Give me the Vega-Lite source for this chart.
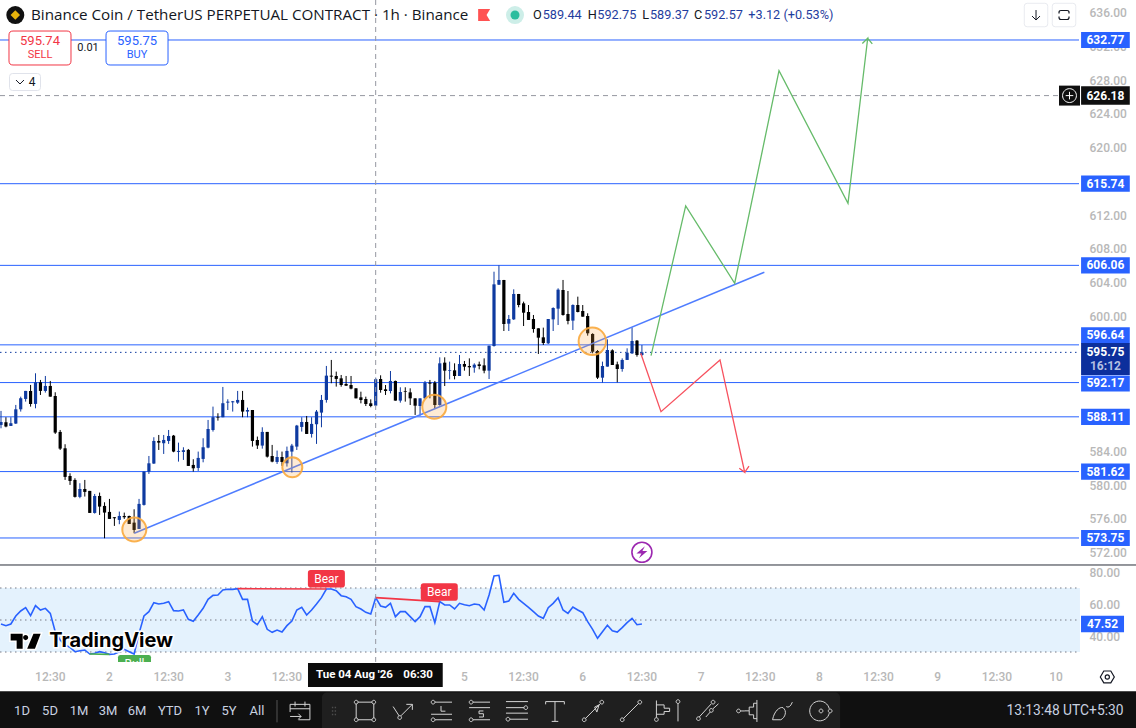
{
  "$schema": "https://vega.github.io/schema/vega-lite/v6.json",
  "description": "BNB perpetual 1h candles with RSI pane and drawn trade levels",
  "width": 1136,
  "height": 728,
  "padding": 0,
  "autosize": {"type": "none"},
  "background": "#ffffff",
  "config": {"view": {"stroke": null}, "text": {"font": "Roboto"}},
  "data": {"values": [{}]},
  "datasets": {
    "candles": [
      {"bar":1,"o":587.15,"h":588.81,"l":586.75,"c":587.50,"rsi":47.5},
      {"bar":2,"o":587.46,"h":588.06,"l":586.87,"c":586.95,"rsi":46.46},
      {"bar":3,"o":587.03,"h":588.06,"l":587.03,"c":587.35,"rsi":47.5},
      {"bar":4,"o":587.31,"h":589.52,"l":587.27,"c":589.00,"rsi":52.5},
      {"bar":5,"o":589.00,"h":590.50,"l":588.73,"c":590.31,"rsi":55.63},
      {"bar":6,"o":590.23,"h":591.18,"l":589.91,"c":591.18,"rsi":57.71},
      {"bar":7,"o":591.18,"h":591.89,"l":589.32,"c":589.64,"rsi":52.71},
      {"bar":8,"o":589.64,"h":593.27,"l":589.12,"c":592.20,"rsi":58.96},
      {"bar":9,"o":592.20,"h":592.48,"l":590.70,"c":591.18,"rsi":56.25},
      {"bar":10,"o":591.18,"h":592.95,"l":590.98,"c":591.77,"rsi":57.29},
      {"bar":11,"o":591.77,"h":592.36,"l":590.50,"c":590.50,"rsi":54.17},
      {"bar":12,"o":590.58,"h":591.02,"l":586.08,"c":586.24,"rsi":42.71},
      {"bar":13,"o":586.32,"h":586.55,"l":584.18,"c":584.34,"rsi":37.5},
      {"bar":14,"o":584.38,"h":584.86,"l":580.63,"c":580.99,"rsi":34.38},
      {"bar":15,"o":581.10,"h":581.42,"l":580.04,"c":580.51,"rsi":32.92},
      {"bar":16,"o":580.63,"h":580.83,"l":578.54,"c":578.62,"rsi":30.21},
      {"bar":17,"o":578.62,"h":580.24,"l":578.46,"c":579.56,"rsi":30.83},
      {"bar":18,"o":579.56,"h":580.63,"l":578.66,"c":579.21,"rsi":31.25},
      {"bar":19,"o":579.33,"h":579.33,"l":576.72,"c":576.72,"rsi":28.75},
      {"bar":20,"o":576.72,"h":578.97,"l":576.64,"c":578.73,"rsi":29.17},
      {"bar":21,"o":578.73,"h":579.13,"l":576.48,"c":577.47,"rsi":30.21},
      {"bar":22,"o":577.55,"h":577.98,"l":573.72,"c":576.76,"rsi":29.58},
      {"bar":23,"o":576.84,"h":578.38,"l":576.01,"c":576.01,"rsi":28.54},
      {"bar":24,"o":576.21,"h":576.21,"l":575.18,"c":576.09,"rsi":28.75},
      {"bar":25,"o":575.89,"h":576.88,"l":575.38,"c":576.36,"rsi":30.21},
      {"bar":26,"o":576.36,"h":576.76,"l":576.01,"c":576.21,"rsi":31.67},
      {"bar":27,"o":576.36,"h":576.40,"l":575.42,"c":575.42,"rsi":30.21},
      {"bar":28,"o":575.57,"h":577.15,"l":574.31,"c":574.70,"rsi":28.75},
      {"bar":29,"o":574.82,"h":578.38,"l":574.82,"c":577.79,"rsi":41.67},
      {"bar":30,"o":577.67,"h":581.62,"l":577.59,"c":581.62,"rsi":52.5},
      {"bar":31,"o":581.62,"h":583.47,"l":581.34,"c":582.60,"rsi":55.21},
      {"bar":32,"o":582.57,"h":585.69,"l":582.53,"c":585.25,"rsi":60.83},
      {"bar":33,"o":585.25,"h":585.96,"l":584.18,"c":585.05,"rsi":60.0},
      {"bar":34,"o":584.98,"h":585.96,"l":583.71,"c":585.37,"rsi":60.42},
      {"bar":35,"o":585.25,"h":586.55,"l":584.90,"c":585.84,"rsi":61.46},
      {"bar":36,"o":585.88,"h":585.96,"l":583.91,"c":583.99,"rsi":55.83},
      {"bar":37,"o":583.95,"h":585.05,"l":582.80,"c":584.07,"rsi":55.63},
      {"bar":38,"o":583.95,"h":584.50,"l":583.00,"c":584.15,"rsi":56.25},
      {"bar":39,"o":584.19,"h":584.30,"l":582.29,"c":582.29,"rsi":50.42},
      {"bar":40,"o":582.41,"h":583.08,"l":581.62,"c":582.01,"rsi":49.17},
      {"bar":41,"o":582.05,"h":583.99,"l":581.70,"c":583.24,"rsi":53.13},
      {"bar":42,"o":583.12,"h":585.57,"l":582.72,"c":584.50,"rsi":57.29},
      {"bar":43,"o":584.46,"h":587.74,"l":584.38,"c":586.67,"rsi":62.92},
      {"bar":44,"o":586.55,"h":589.32,"l":586.36,"c":588.06,"rsi":65.42},
      {"bar":45,"o":588.10,"h":588.53,"l":587.66,"c":588.02,"rsi":65.63},
      {"bar":46,"o":588.06,"h":591.65,"l":588.06,"c":589.72,"rsi":68.75},
      {"bar":47,"o":589.79,"h":590.19,"l":588.92,"c":589.91,"rsi":69.17},
      {"bar":48,"o":589.83,"h":589.99,"l":588.73,"c":589.95,"rsi":69.17},
      {"bar":49,"o":589.79,"h":591.18,"l":589.64,"c":590.11,"rsi":69.58},
      {"bar":50,"o":590.11,"h":591.18,"l":588.06,"c":588.73,"rsi":62.92},
      {"bar":51,"o":588.73,"h":589.20,"l":588.06,"c":588.92,"rsi":62.92},
      {"bar":52,"o":588.92,"h":588.92,"l":584.58,"c":585.25,"rsi":49.38},
      {"bar":53,"o":585.37,"h":585.77,"l":584.30,"c":584.70,"rsi":47.08},
      {"bar":54,"o":584.70,"h":586.87,"l":584.34,"c":586.32,"rsi":52.08},
      {"bar":55,"o":586.32,"h":586.32,"l":583.28,"c":583.39,"rsi":44.17},
      {"bar":56,"o":583.47,"h":584.78,"l":582.72,"c":582.80,"rsi":42.29},
      {"bar":57,"o":582.76,"h":584.11,"l":582.53,"c":583.35,"rsi":43.75},
      {"bar":58,"o":583.35,"h":583.99,"l":582.29,"c":582.76,"rsi":42.5},
      {"bar":59,"o":582.60,"h":584.58,"l":582.21,"c":584.07,"rsi":46.46},
      {"bar":60,"o":583.99,"h":584.90,"l":581.50,"c":584.70,"rsi":49.38},
      {"bar":61,"o":584.58,"h":587.15,"l":584.18,"c":587.07,"rsi":56.25},
      {"bar":62,"o":586.91,"h":588.06,"l":586.36,"c":587.50,"rsi":57.92},
      {"bar":63,"o":587.50,"h":588.21,"l":586.08,"c":586.08,"rsi":53.13},
      {"bar":64,"o":586.08,"h":588.06,"l":585.65,"c":587.27,"rsi":56.25},
      {"bar":65,"o":587.23,"h":588.92,"l":584.90,"c":588.73,"rsi":60.0},
      {"bar":66,"o":588.61,"h":590.70,"l":586.87,"c":590.11,"rsi":63.96},
      {"bar":67,"o":590.11,"h":594.14,"l":589.79,"c":592.99,"rsi":69.38},
      {"bar":68,"o":592.99,"h":594.85,"l":592.09,"c":592.87,"rsi":69.38},
      {"bar":69,"o":592.95,"h":593.47,"l":591.69,"c":592.60,"rsi":68.33},
      {"bar":70,"o":592.67,"h":593.07,"l":591.68,"c":591.88,"rsi":65.21},
      {"bar":71,"o":592.00,"h":592.95,"l":591.76,"c":591.80,"rsi":64.58},
      {"bar":72,"o":591.88,"h":592.95,"l":591.37,"c":591.45,"rsi":62.92},
      {"bar":73,"o":591.49,"h":591.49,"l":590.30,"c":590.30,"rsi":58.33},
      {"bar":74,"o":590.42,"h":591.09,"l":589.71,"c":590.10,"rsi":56.88},
      {"bar":75,"o":590.22,"h":590.50,"l":589.39,"c":589.63,"rsi":54.79},
      {"bar":76,"o":589.71,"h":590.18,"l":589.24,"c":589.39,"rsi":53.75},
      {"bar":77,"o":589.44,"h":592.75,"l":589.37,"c":592.57,"rsi":63.96},
      {"bar":78,"o":592.59,"h":593.03,"l":590.97,"c":591.29,"rsi":58.75},
      {"bar":79,"o":591.37,"h":591.88,"l":590.70,"c":591.17,"rsi":57.92},
      {"bar":80,"o":591.17,"h":593.54,"l":590.89,"c":592.36,"rsi":60.42},
      {"bar":81,"o":592.36,"h":592.40,"l":590.03,"c":590.03,"rsi":52.08},
      {"bar":82,"o":590.03,"h":591.61,"l":589.79,"c":591.05,"rsi":55.21},
      {"bar":83,"o":591.13,"h":591.61,"l":589.91,"c":591.05,"rsi":55.21},
      {"bar":84,"o":591.01,"h":591.49,"l":589.51,"c":590.30,"rsi":52.08},
      {"bar":85,"o":590.30,"h":590.30,"l":588.33,"c":589.43,"rsi":48.96},
      {"bar":86,"o":589.39,"h":590.30,"l":588.25,"c":590.30,"rsi":52.08},
      {"bar":87,"o":590.30,"h":592.36,"l":590.22,"c":592.16,"rsi":58.33},
      {"bar":88,"o":592.16,"h":592.48,"l":590.30,"c":592.04,"rsi":58.33},
      {"bar":89,"o":592.16,"h":592.36,"l":589.04,"c":589.51,"rsi":48.33},
      {"bar":90,"o":589.51,"h":595.16,"l":589.43,"c":594.45,"rsi":61.46},
      {"bar":91,"o":594.53,"h":595.16,"l":591.76,"c":593.58,"rsi":59.38},
      {"bar":92,"o":593.58,"h":594.65,"l":592.55,"c":593.66,"rsi":59.38},
      {"bar":93,"o":593.62,"h":594.45,"l":592.55,"c":592.95,"rsi":56.88},
      {"bar":94,"o":592.95,"h":595.44,"l":592.95,"c":594.37,"rsi":60.42},
      {"bar":95,"o":594.37,"h":594.73,"l":593.58,"c":594.05,"rsi":59.58},
      {"bar":96,"o":594.13,"h":595.04,"l":592.95,"c":593.98,"rsi":58.96},
      {"bar":97,"o":593.94,"h":594.45,"l":593.34,"c":594.29,"rsi":60.0},
      {"bar":98,"o":594.33,"h":594.65,"l":593.74,"c":594.13,"rsi":59.58},
      {"bar":99,"o":594.21,"h":595.04,"l":593.27,"c":593.58,"rsi":56.25},
      {"bar":100,"o":593.58,"h":596.54,"l":592.59,"c":596.54,"rsi":65.63},
      {"bar":101,"o":596.50,"h":605.31,"l":596.43,"c":603.81,"rsi":77.5},
      {"bar":102,"o":603.77,"h":606.06,"l":603.73,"c":604.33,"rsi":77.92},
      {"bar":103,"o":604.33,"h":604.33,"l":598.28,"c":599.11,"rsi":61.04},
      {"bar":104,"o":599.15,"h":600.18,"l":598.28,"c":599.70,"rsi":61.88},
      {"bar":105,"o":599.66,"h":603.22,"l":599.59,"c":602.67,"rsi":66.67},
      {"bar":106,"o":602.67,"h":602.67,"l":601.09,"c":601.36,"rsi":62.92},
      {"bar":107,"o":601.56,"h":601.76,"l":598.87,"c":600.45,"rsi":60.42},
      {"bar":108,"o":600.53,"h":601.36,"l":599.59,"c":599.59,"rsi":57.92},
      {"bar":109,"o":599.70,"h":600.18,"l":598.08,"c":598.52,"rsi":55.21},
      {"bar":110,"o":598.60,"h":598.60,"l":595.56,"c":597.49,"rsi":52.5},
      {"bar":111,"o":597.53,"h":598.68,"l":596.62,"c":596.86,"rsi":51.04},
      {"bar":112,"o":596.82,"h":599.70,"l":596.74,"c":599.70,"rsi":57.71},
      {"bar":113,"o":599.66,"h":601.09,"l":598.28,"c":601.01,"rsi":60.42},
      {"bar":114,"o":600.93,"h":603.34,"l":598.99,"c":603.18,"rsi":63.96},
      {"bar":115,"o":603.14,"h":604.33,"l":600.10,"c":600.18,"rsi":56.25},
      {"bar":116,"o":600.30,"h":603.02,"l":599.07,"c":599.47,"rsi":54.17},
      {"bar":117,"o":599.51,"h":601.44,"l":598.40,"c":601.36,"rsi":58.13},
      {"bar":118,"o":601.36,"h":602.35,"l":600.49,"c":600.53,"rsi":56.25},
      {"bar":119,"o":600.65,"h":601.36,"l":599.98,"c":599.98,"rsi":54.58},
      {"bar":120,"o":600.06,"h":600.38,"l":597.73,"c":598.01,"rsi":48.96},
      {"bar":121,"o":597.93,"h":598.01,"l":595.64,"c":595.83,"rsi":44.17},
      {"bar":122,"o":595.91,"h":596.03,"l":592.59,"c":592.75,"rsi":38.54},
      {"bar":123,"o":592.75,"h":594.65,"l":592.16,"c":594.13,"rsi":42.71},
      {"bar":124,"o":594.06,"h":597.29,"l":594.06,"c":596.03,"rsi":46.67},
      {"bar":125,"o":595.99,"h":596.11,"l":594.25,"c":594.25,"rsi":43.33},
      {"bar":126,"o":594.33,"h":594.65,"l":592.20,"c":593.78,"rsi":42.5},
      {"bar":127,"o":593.78,"h":595.04,"l":593.46,"c":594.85,"rsi":45.21},
      {"bar":128,"o":594.85,"h":596.23,"l":594.85,"c":595.71,"rsi":48.33},
      {"bar":129,"o":595.63,"h":598.72,"l":595.56,"c":597.10,"rsi":51.04},
      {"bar":130,"o":597.14,"h":597.21,"l":595.24,"c":595.44,"rsi":47.08},
      {"bar":131,"o":595.44,"h":596.62,"l":595.32,"c":595.75,"rsi":47.52}
    ],
    "levels": [
      {"price":632.77,"tag":632.77},
      {"price":615.74,"tag":615.74},
      {"price":606.06,"tag":606.06},
      {"price":596.64,"tag":597.75},
      {"price":592.17,"tag":592.06},
      {"price":588.11,"tag":588.11},
      {"price":581.62,"tag":581.62},
      {"price":573.75,"tag":573.75}
    ],
    "greenPath": [
      {"i":1,"bar":132.85,"price":595.36},
      {"i":2,"bar":139.88,"price":613.10},
      {"i":3,"bar":149.82,"price":603.94},
      {"i":4,"bar":158.81,"price":629.13},
      {"i":5,"bar":172.80,"price":613.42},
      {"i":6,"bar":176.80,"price":632.97},
      {"i":7,"bar":175.71,"price":632.36},
      {"i":8,"bar":176.80,"price":632.97},
      {"i":9,"bar":177.73,"price":632.30}
    ],
    "redPath": [
      {"i":1,"bar":130.76,"price":595.64},
      {"i":2,"bar":134.87,"price":588.72},
      {"i":3,"bar":146.84,"price":594.85},
      {"i":4,"bar":151.85,"price":581.54},
      {"i":5,"bar":150.75,"price":582.01},
      {"i":6,"bar":151.85,"price":581.54},
      {"i":7,"bar":152.72,"price":582.28}
    ],
    "trend": [
      {"bar":28.04,"price":574.31},
      {"bar":155.83,"price":605.24}
    ],
    "timeTicks": [
      {"bar":11,"label":"12:30"},{"bar":23,"label":"2"},{"bar":35,"label":"12:30"},{"bar":47,"label":"3"},
      {"bar":59,"label":"12:30"},{"bar":95,"label":"5"},
      {"bar":107,"label":"12:30"},{"bar":119,"label":"6"},{"bar":131,"label":"12:30"},{"bar":143,"label":"7"},
      {"bar":155,"label":"12:30"},{"bar":167,"label":"8"},{"bar":179,"label":"12:30"},{"bar":191,"label":"9"},
      {"bar":203,"label":"12:30"},{"bar":215,"label":"10"}
    ],
    "ranges": [
      {"bar":5.26,"label":"1D"},{"bar":10.94,"label":"5D"},{"bar":16.82,"label":"1M"},{"bar":22.70,"label":"3M"},
      {"bar":28.59,"label":"6M"},{"bar":35.28,"label":"YTD"},{"bar":41.77,"label":"1Y"},{"bar":47.25,"label":"5Y"},
      {"bar":52.93,"label":"All"}
    ],
    "ohlcKeys": [
      {"bar":108.91,"label":"O"},{"bar":120.0,"label":"H"},{"bar":131.08,"label":"L"},{"bar":141.57,"label":"C"}
    ],
    "ohlcValues": [
      {"bar":110.88,"label":"589.44"},{"bar":121.95,"label":"592.75"},{"bar":132.64,"label":"589.37"},
      {"bar":143.59,"label":"592.57"},{"bar":152.58,"label":"+3.12 (+0.53%)"}
    ],
    "tools": [
      {"bar":61.65,"tool":"calendar"},{"bar":74.83,"tool":"rect"},{"bar":82.54,"tool":"path"},
      {"bar":90.25,"tool":"long"},{"bar":97.96,"tool":"short"},{"bar":105.66,"tool":"lines"},
      {"bar":113.37,"tool":"text"},{"bar":121.08,"tool":"arrow"},{"bar":128.79,"tool":"line"},
      {"bar":135.28,"tool":"fib"},{"bar":138.32,"tool":"vline"},{"bar":144.41,"tool":"channel"},
      {"bar":152.32,"tool":"fork"},{"bar":159.62,"tool":"brush"},{"bar":167.33,"tool":"target"}
    ]
  },
  "resolve": {"scale": {"y": "independent"}, "axis": {"y": "independent"}},
  "encoding": {
    "x": {"type": "quantitative", "scale": {"domain": [0.797, 231.22], "padding": 0}, "axis": null}
  },
  "layer": [
    {
      "encoding": {
        "y": {
          "type": "quantitative",
          "scale": {"domain": [551.23, 637.51]},
          "axis": {
            "title": null, "orient": "right", "offset": -47, "domain": false, "ticks": false, "grid": false,
            "labelPadding": 0, "labelAlign": "left", "format": ".2f", "labelColor": "#b8b8b8", "labelFont": "Roboto",
            "labelFontSize": 12, "labelFontWeight": 500,
            "values": [636,632,628,624,620,612,608,604,600,584,580,576,572]
          }
        }
      },
      "layer": [
        {
          "data": {"name": "levels"},
          "mark": {"type": "rule", "color": "#2962ff", "strokeWidth": 1},
          "encoding": {"x": {"datum": 0.8}, "x2": {"datum": 219.66}, "y": {"field": "price"}}
        },
        {
          "mark": {"type": "rule", "color": "#0e3aa0", "strokeWidth": 1, "strokeDash": [1.5, 3.5]},
          "encoding": {"x": {"datum": 0.8}, "x2": {"datum": 219.66}, "y": {"datum": 595.75}}
        },
        {
          "mark": {"type": "rule", "color": "#9598a1", "strokeWidth": 1, "strokeDash": [5, 4]},
          "encoding": {"x": {"datum": 0.8}, "x2": {"datum": 217.73}, "y": {"datum": 626.18}}
        },
        {
          "mark": {"type": "rule", "color": "#2a2e39", "strokeWidth": 1},
          "encoding": {"x": {"datum": 0.797}, "x2": {"datum": 231.22}, "y": {"datum": 570.55}}
        },
        {
          "data": {"name": "candles"},
          "mark": {"type": "rule", "strokeWidth": 1},
          "encoding": {
            "x": {"field": "bar"},
            "y": {"field": "l"},
            "y2": {"field": "h"},
            "color": {"condition": {"test": "datum.c >= datum.o", "value": "#0e3aa0"}, "value": "#000000"}
          }
        },
        {
          "data": {"name": "candles"},
          "mark": {"type": "bar", "orient": "vertical", "size": 3.2, "minBandSize": 1},
          "encoding": {
            "x": {"field": "bar"},
            "y": {"field": "o"},
            "y2": {"field": "c"},
            "color": {"condition": {"test": "datum.c >= datum.o", "value": "#0e3aa0"}, "value": "#000000"}
          }
        },
        {
          "data": {"name": "trend"},
          "mark": {"type": "line", "color": "#4f7dff", "strokeWidth": 1.5},
          "encoding": {"x": {"field": "bar"}, "y": {"field": "price"}}
        },
        {
          "data": {"name": "greenPath"},
          "mark": {"type": "line", "color": "#66bb6a", "strokeWidth": 1.3},
          "encoding": {"x": {"field": "bar"}, "y": {"field": "price"}, "order": {"field": "i"}}
        },
        {
          "data": {"name": "redPath"},
          "mark": {"type": "line", "color": "#f7525f", "strokeWidth": 1.3},
          "encoding": {"x": {"field": "bar"}, "y": {"field": "price"}, "order": {"field": "i"}}
        },
        {
          "data": {"values": [{"bar":28.04,"price":574.76},{"bar":88.89,"price":589.31}]},
          "mark": {"type": "point", "shape": "circle", "size": 576, "filled": true, "fill": "#f9a63a", "fillOpacity": 0.22, "stroke": "#f9a83c", "strokeOpacity": 0.9, "strokeWidth": 2, "opacity": 1},
          "encoding": {"x": {"field": "bar"}, "y": {"field": "price"}}
        },
        {
          "mark": {"type": "point", "shape": "circle", "size": 400, "filled": true, "fill": "#f9a63a", "fillOpacity": 0.22, "stroke": "#f9a83c", "strokeOpacity": 0.9, "strokeWidth": 2, "opacity": 1},
          "encoding": {"x": {"datum": 60.09}, "y": {"datum": 582.13}}
        },
        {
          "mark": {"type": "point", "shape": "circle", "size": 750, "filled": true, "fill": "#f9a63a", "fillOpacity": 0.22, "stroke": "#f9a83c", "strokeOpacity": 0.9, "strokeWidth": 2, "opacity": 1},
          "encoding": {"x": {"datum": 120.94}, "y": {"datum": 597.06}}
        },
        {
          "mark": {"type": "point", "shape": "circle", "size": 400, "filled": false, "color": "#9c27b0", "strokeWidth": 1.6, "opacity": 1},
          "encoding": {"x": {"datum": 131}, "y": {"datum": 572.06}}
        },
        {
          "mark": {"type": "point", "shape": "M0.3,-0.6L-0.55,0.12H-0.05L-0.3,0.6L0.55,-0.12H0.05Z", "size": 400, "filled": true, "color": "#9c27b0", "opacity": 1},
          "encoding": {"x": {"datum": 131}, "y": {"datum": 572.06}}
        },
        {
          "data": {"name": "levels"},
          "mark": {"type": "point", "shape": "M-1,-0.333H1V0.333H-1Z", "size": 2372, "filled": true, "color": "#2962ff", "opacity": 1},
          "encoding": {"x": {"datum": 225.02}, "y": {"field": "tag"}}
        },
        {
          "data": {"name": "levels"},
          "mark": {"type": "text", "color": "#ffffff", "fontWeight": "bold", "fontSize": 12, "baseline": "middle", "align": "center"},
          "encoding": {"x": {"datum": 225.02}, "y": {"field": "tag"}, "text": {"field": "price", "type": "quantitative", "format": ".2f"}}
        },
        {
          "mark": {"type": "point", "shape": "M-1,-0.657H1V0.657H-1Z", "size": 2372, "filled": true, "color": "#0c2f9c", "opacity": 1},
          "encoding": {"x": {"datum": 225.02}, "y": {"datum": 594.96}}
        },
        {
          "mark": {"type": "text", "color": "#ffffff", "fontWeight": "bold", "fontSize": 12, "baseline": "middle", "align": "center"},
          "encoding": {"x": {"datum": 225.02}, "y": {"datum": 595.79}, "text": {"value": "595.75"}}
        },
        {
          "mark": {"type": "text", "color": "#b4bfe2", "fontWeight": "bold", "fontSize": 12, "baseline": "middle", "align": "center"},
          "encoding": {"x": {"datum": 225.02}, "y": {"datum": 594.13}, "text": {"value": "16:12"}}
        },
        {
          "mark": {"type": "point", "shape": "M-1,-0.38H1V0.38H-1Z", "size": 2372, "filled": true, "color": "#0f0f0f", "opacity": 1},
          "encoding": {"x": {"datum": 225.02}, "y": {"datum": 626.18}}
        },
        {
          "mark": {"type": "text", "color": "#ffffff", "fontWeight": "bold", "fontSize": 12, "baseline": "middle", "align": "center"},
          "encoding": {"x": {"datum": 225.02}, "y": {"datum": 626.18}, "text": {"value": "626.18"}}
        },
        {
          "mark": {"type": "point", "shape": "M-1,-0.95H1V0.95H-1Z", "size": 441, "filled": true, "color": "#0f0f0f", "opacity": 1},
          "encoding": {"x": {"datum": 217.73}, "y": {"datum": 626.18}}
        },
        {
          "mark": {"type": "point", "shape": "M0.66,0a0.66,0.66 0 1 0 -1.32,0a0.66,0.66 0 1 0 1.32,0M-0.36,0H0.36M0,-0.36V0.36", "size": 441, "filled": false, "color": "#ffffff", "strokeWidth": 1, "opacity": 1},
          "encoding": {"x": {"datum": 217.73}, "y": {"datum": 626.18}}
        }
      ]
    },
    {
      "encoding": {
        "y": {
          "type": "quantitative",
          "scale": {"domain": [-17.5, 437.5]},
          "axis": {
            "title": null, "orient": "right", "offset": -47, "domain": false, "ticks": false, "grid": false,
            "labelPadding": 0, "labelAlign": "left", "format": ".2f", "labelColor": "#b8b8b8", "labelFont": "Roboto",
            "labelFontSize": 12, "labelFontWeight": 500, "values": [80, 60, 40]
          }
        }
      },
      "layer": [
        {
          "mark": {"type": "rect", "color": "#e4f2fd"},
          "encoding": {"x": {"datum": 0.8}, "x2": {"datum": 219.85}, "y": {"datum": 70}, "y2": {"datum": 30}}
        },
        {
          "data": {"values": [{"rsi":70},{"rsi":50},{"rsi":30}]},
          "mark": {"type": "rule", "color": "#787b86", "strokeWidth": 1, "strokeDash": [1.5, 3.5]},
          "encoding": {"x": {"datum": 0.8}, "x2": {"datum": 219.66}, "y": {"field": "rsi"}}
        },
        {
          "data": {"name": "candles"},
          "mark": {"type": "line", "color": "#2962ff", "strokeWidth": 1.6},
          "encoding": {"x": {"field": "bar"}, "y": {"field": "rsi"}}
        },
        {
          "data": {"values": [{"bar":49,"rsi":69.58},{"bar":67,"rsi":69.38}]},
          "mark": {"type": "line", "color": "#f23645", "strokeWidth": 1.6},
          "encoding": {"x": {"field": "bar"}, "y": {"field": "rsi"}}
        },
        {
          "data": {"values": [{"bar":77,"rsi":63.96},{"bar":90,"rsi":61.46}]},
          "mark": {"type": "line", "color": "#f23645", "strokeWidth": 1.6},
          "encoding": {"x": {"field": "bar"}, "y": {"field": "rsi"}}
        },
        {
          "data": {"values": [{"bar":19,"rsi":28.75},{"bar":23,"rsi":28.54}]},
          "mark": {"type": "line", "color": "#4caf50", "strokeWidth": 1.6},
          "encoding": {"x": {"field": "bar"}, "y": {"field": "rsi"}}
        },
        {
          "data": {"values": [{"bar":67,"rsi":75.75},{"bar":89.9,"rsi":67.5}]},
          "mark": {"type": "point", "shape": "M-0.85,-0.473H0.85Q1,-0.473 1,-0.32V0.32Q1,0.473 0.85,0.473H-0.85Q-1,0.473 -1,0.32V-0.32Q-1,-0.473 -0.85,-0.473Z", "size": 1369, "filled": true, "color": "#f23645", "opacity": 1},
          "encoding": {"x": {"field": "bar"}, "y": {"field": "rsi"}}
        },
        {
          "data": {"values": [{"bar":67,"rsi":75.75},{"bar":89.9,"rsi":67.5}]},
          "mark": {"type": "text", "color": "#ffffff", "fontSize": 12, "baseline": "middle", "align": "center"},
          "encoding": {"x": {"field": "bar"}, "y": {"field": "rsi"}, "text": {"value": "Bear"}}
        },
        {
          "mark": {"type": "point", "shape": "M-1,-0.388H1V0.388H-1Z", "size": 1849, "filled": true, "color": "#2962ff", "opacity": 1},
          "encoding": {"x": {"datum": 224.43}, "y": {"datum": 47.52}}
        },
        {
          "mark": {"type": "text", "color": "#ffffff", "fontWeight": "bold", "fontSize": 12, "baseline": "middle", "align": "center"},
          "encoding": {"x": {"datum": 224.43}, "y": {"datum": 47.52}, "text": {"value": "47.52"}}
        }
      ]
    },
    {
      "encoding": {
        "y": {"type": "quantitative", "scale": {"domain": [551.23, 637.51]}, "axis": null}
      },
      "layer": [
        {
          "mark": {"type": "rule", "color": "#9598a1", "strokeWidth": 1, "strokeDash": [5, 4]},
          "encoding": {"x": {"datum": 77}, "y": {"datum": 637.51}, "y2": {"datum": 559.06}}
        },
        {
          "mark": {"type": "point", "shape": "M-0.85,-0.55H0.85Q1,-0.55 1,-0.4V0.4Q1,0.55 0.85,0.55H-0.85Q-1,0.55 -1,0.4V-0.4Q-1,-0.55 -0.85,-0.55Z", "size": 1089, "filled": true, "color": "#4caf50", "opacity": 1},
          "encoding": {"x": {"datum": 28.08}, "y": {"datum": 558.82}}
        },
        {
          "mark": {"type": "text", "color": "#ffffff", "fontSize": 12, "baseline": "middle", "align": "center"},
          "encoding": {"x": {"datum": 28.08}, "y": {"datum": 558.82}, "text": {"value": "Bull"}}
        },
        {
          "mark": {"type": "rect", "color": "#ffffff"},
          "encoding": {"x": {"datum": 0.797}, "x2": {"datum": 219.5}, "y": {"datum": 559.06}, "y2": {"datum": 555.5}}
        },
        {
          "data": {"name": "timeTicks"},
          "mark": {"type": "text", "color": "#b8b8b8", "fontSize": 12, "fontWeight": 500, "baseline": "middle", "align": "center"},
          "encoding": {"x": {"field": "bar"}, "y": {"datum": 557.28}, "text": {"field": "label"}}
        },
        {
          "mark": {"type": "rect", "color": "#0b0b0b"},
          "encoding": {"x": {"datum": 63.27}, "x2": {"datum": 90.6}, "y": {"datum": 558.93}, "y2": {"datum": 556.1}}
        },
        {
          "mark": {"type": "text", "color": "#ffffff", "fontSize": 11.5, "fontWeight": "bold", "baseline": "middle", "align": "left"},
          "encoding": {"x": {"datum": 64.9}, "y": {"datum": 557.5}, "text": {"value": "Tue 04 Aug '26"}}
        },
        {
          "mark": {"type": "text", "color": "#ffffff", "fontSize": 11.5, "fontWeight": "bold", "baseline": "middle", "align": "left"},
          "encoding": {"x": {"datum": 82.6}, "y": {"datum": 557.5}, "text": {"value": "06:30"}}
        },
        {
          "mark": {"type": "point", "shape": "M-1,0L-0.5,-0.85H0.5L1,0L0.5,0.85H-0.5ZM0.3,0a0.3,0.3 0 1 0 -0.6,0a0.3,0.3 0 1 0 0.6,0", "size": 196, "filled": false, "color": "#131722", "strokeWidth": 1.2, "opacity": 1},
          "encoding": {"x": {"datum": 225.4}, "y": {"datum": 557.28}}
        },
        {
          "mark": {"type": "rect", "color": "#101010"},
          "encoding": {"x": {"datum": 0.797}, "x2": {"datum": 231.22}, "y": {"datum": 555.6}, "y2": {"datum": 551.23}}
        },
        {
          "mark": {"type": "rect", "color": "#1f1f1f", "cornerRadiusTopRight": 5, "cornerRadiusTopLeft": 5},
          "encoding": {"x": {"datum": 66.1}, "x2": {"datum": 171.2}, "y": {"datum": 555.45}, "y2": {"datum": 551.23}}
        },
        {
          "data": {"name": "ranges"},
          "mark": {"type": "text", "color": "#c9d2e0", "fontSize": 13, "baseline": "middle", "align": "center"},
          "encoding": {"x": {"field": "bar"}, "y": {"datum": 553.25}, "text": {"field": "label"}}
        },
        {
          "mark": {"type": "rule", "color": "#555555", "strokeWidth": 1},
          "encoding": {"x": {"datum": 56.98}, "y": {"datum": 554.55}, "y2": {"datum": 551.9}}
        },
        {
          "mark": {"type": "point", "shape": "M-0.3,-0.6h0.2v0.2h-0.2zM0.1,-0.6h0.2v0.2h-0.2zM-0.3,-0.1h0.2v0.2h-0.2zM0.1,-0.1h0.2v0.2h-0.2zM-0.3,0.4h0.2v0.2h-0.2zM0.1,0.4h0.2v0.2h-0.2z", "size": 196, "filled": true, "color": "#4d4d4d", "opacity": 1},
          "encoding": {"x": {"datum": 68.54}, "y": {"datum": 553.25}}
        },
        {
          "data": {"name": "tools"},
          "mark": {"type": "point", "filled": false, "size": 484, "strokeWidth": 1, "color": "#d4d4d4", "opacity": 1},
          "encoding": {
            "x": {"field": "bar"},
            "y": {"datum": 553.25},
            "shape": {
              "field": "tool",
              "type": "nominal",
              "legend": null,
              "scale": {
                "domain": ["calendar","rect","path","long","short","lines","text","arrow","line","fib","vline","channel","fork","brush","target"],
                "range": [
                  "M-0.9,0.1V-0.6H0.9V0.8H-0.15M-0.9,-0.2H0.9M-0.45,-0.85V-0.4M0.45,-0.85V-0.4M-0.9,0.5H0.1M-0.15,0.25L0.1,0.5L-0.15,0.75",
                  "M-0.65,-0.8H0.65M-0.65,0.8H0.65M-0.8,-0.65V0.65M0.8,-0.65V0.65M-0.63,-0.8a0.17,0.17 0 1 0 -0.34,0a0.17,0.17 0 1 0 0.34,0M0.97,-0.8a0.17,0.17 0 1 0 -0.34,0a0.17,0.17 0 1 0 0.34,0M-0.63,0.8a0.17,0.17 0 1 0 -0.34,0a0.17,0.17 0 1 0 0.34,0M0.97,0.8a0.17,0.17 0 1 0 -0.34,0a0.17,0.17 0 1 0 0.34,0",
                  "M-0.9,-0.4L-0.35,0.45M-0.2,0.45L0.85,-0.6M0.3,-0.6H0.85V-0.1M-0.13,0.6a0.17,0.17 0 1 0 -0.34,0a0.17,0.17 0 1 0 0.34,0",
                  "M-0.55,-0.8H1M-0.55,0.8H1M-0.9,0.3H1M-0.55,-0.8a0.17,0.17 0 1 0 -0.34,0a0.17,0.17 0 1 0 0.34,0M-0.55,0.8a0.17,0.17 0 1 0 -0.34,0a0.17,0.17 0 1 0 0.34,0M0,-0.45V0.02H0.4",
                  "M-0.55,-0.8H1M-0.55,0.8H1M-0.9,-0.3H1M-0.55,-0.8a0.17,0.17 0 1 0 -0.34,0a0.17,0.17 0 1 0 0.34,0M-0.55,0.8a0.17,0.17 0 1 0 -0.34,0a0.17,0.17 0 1 0 0.34,0M0.4,0H0V0.25H0.4V0.55H0",
                  "M-1,-0.85H1M-1,-0.3H0.65M-1,0.2H1M-0.65,0.75H1M0.97,-0.3a0.17,0.17 0 1 0 -0.34,0a0.17,0.17 0 1 0 0.34,0M-0.65,0.75a0.17,0.17 0 1 0 -0.34,0a0.17,0.17 0 1 0 0.34,0",
                  "M-0.85,-0.6V-0.85H0.85V-0.6M0,-0.85V0.95M-0.3,0.95H0.3",
                  "M-0.7,0.7L0.65,-0.65M0.15,-0.35L0.35,0.1L0.55,-0.55ZM-0.63,0.8a0.17,0.17 0 1 0 -0.34,0a0.17,0.17 0 1 0 0.34,0M0.97,-0.8a0.17,0.17 0 1 0 -0.34,0a0.17,0.17 0 1 0 0.34,0",
                  "M-0.7,0.7L0.7,-0.7M-0.63,0.8a0.17,0.17 0 1 0 -0.34,0a0.17,0.17 0 1 0 0.34,0M0.97,-0.8a0.17,0.17 0 1 0 -0.34,0a0.17,0.17 0 1 0 0.34,0",
                  "M-0.6,-0.95V0.6M-0.6,-0.55H0.1V-0.25H0.6V0.05H0.1V0.3H-0.6M-0.43,0.78a0.17,0.17 0 1 0 -0.34,0a0.17,0.17 0 1 0 0.34,0",
                  "M0,-0.7V0.95M0.17,-0.85a0.17,0.17 0 1 0 -0.34,0a0.17,0.17 0 1 0 0.34,0",
                  "M-0.8,0.55L0.3,-0.65M-0.2,0.55L0.2,0.1M0.45,-0.2L0.95,-0.65M-0.7,0.7a0.17,0.17 0 1 0 -0.34,0a0.17,0.17 0 1 0 0.34,0M0.63,-0.8a0.17,0.17 0 1 0 -0.34,0a0.17,0.17 0 1 0 0.34,0M0.47,-0.05a0.17,0.17 0 1 0 -0.34,0a0.17,0.17 0 1 0 0.34,0",
                  "M0.9,-1V1M-0.6,0H-0.2M-0.2,0V-0.01H0.2V-0.35H0.6V-0.7H0.9M0.2,0V0.35H0.6V0.7H0.9M-0.6,0a0.17,0.17 0 1 0 -0.34,0a0.17,0.17 0 1 0 0.34,0",
                  "M-0.95,0.8C-0.8,0 -0.3,-0.4 0,-0.3C0.4,0 0.2,0.6 -0.2,0.8H-0.95M0.3,-0.4Q0.6,-0.2 0.85,-0.8",
                  "M0.75,-0.2A0.9,0.9 0 1 0 0.75,0.2M0.17,0a0.17,0.17 0 1 0 -0.34,0a0.17,0.17 0 1 0 0.34,0M1,0a0.17,0.17 0 1 0 -0.34,0a0.17,0.17 0 1 0 0.34,0"
                ]
              }
            }
          }
        },
        {
          "mark": {"type": "text", "color": "#c9d2e0", "fontSize": 13.8, "baseline": "middle", "align": "center"},
          "encoding": {"x": {"datum": 216.82}, "y": {"datum": 553.25}, "text": {"value": "13:13:48 UTC+5:30"}}
        },
        {
          "mark": {"type": "point", "shape": "circle", "size": 324, "filled": true, "color": "#111111", "opacity": 1},
          "encoding": {"x": {"datum": 3.9}, "y": {"datum": 635.73}}
        },
        {
          "mark": {"type": "point", "shape": "diamond", "size": 90, "filled": true, "color": "#e8b30c", "opacity": 1},
          "encoding": {"x": {"datum": 3.9}, "y": {"datum": 635.73}}
        },
        {
          "mark": {"type": "text", "font": "Open Sans", "color": "#131722", "fontSize": 15.2, "baseline": "middle", "align": "left"},
          "encoding": {"x": {"datum": 7.09}, "y": {"datum": 635.73}, "text": {"value": "Binance Coin / TetherUS PERPETUAL CONTRACT · 1h · Binance"}}
        },
        {
          "mark": {"type": "point", "shape": "M-1,-1H1L0.4,0L1,1H-1Z", "size": 144, "filled": true, "color": "#ff5252", "opacity": 1},
          "encoding": {"x": {"datum": 99.0}, "y": {"datum": 635.73}}
        },
        {
          "mark": {"type": "point", "shape": "circle", "size": 324, "filled": true, "color": "#cdeee8", "opacity": 1},
          "encoding": {"x": {"datum": 105.26}, "y": {"datum": 635.73}}
        },
        {
          "mark": {"type": "point", "shape": "circle", "size": 81, "filled": true, "color": "#2bbd9e", "opacity": 1},
          "encoding": {"x": {"datum": 105.26}, "y": {"datum": 635.73}}
        },
        {
          "data": {"name": "ohlcKeys"},
          "mark": {"type": "text", "color": "#131722", "fontSize": 12.7, "baseline": "middle", "align": "left"},
          "encoding": {"x": {"field": "bar"}, "y": {"datum": 635.73}, "text": {"field": "label"}}
        },
        {
          "data": {"name": "ohlcValues"},
          "mark": {"type": "text", "color": "#1f3d9e", "fontSize": 12.7, "baseline": "middle", "align": "left"},
          "encoding": {"x": {"field": "bar"}, "y": {"datum": 635.73}, "text": {"field": "label"}}
        },
        {
          "data": {"values": [{"bar":8.91,"side":"sell"},{"bar":28.59,"side":"buy"}]},
          "mark": {"type": "point", "shape": "M-0.87,-0.548H0.87Q1,-0.548 1,-0.418V0.418Q1,0.548 0.87,0.548H-0.87Q-1,0.548 -1,0.418V-0.418Q-1,-0.548 -0.87,-0.548Z", "size": 3844, "filled": true, "fill": "#ffffff", "strokeWidth": 1, "opacity": 1},
          "encoding": {
            "x": {"field": "bar"},
            "y": {"datum": 631.82},
            "stroke": {"field": "side", "type": "nominal", "legend": null, "scale": {"domain": ["sell","buy"], "range": ["#f23645","#2962ff"]}}
          }
        },
        {
          "data": {"values": [{"bar":8.91,"price":632.65,"label":"595.74"},{"bar":28.59,"price":632.65,"label":"595.75"}]},
          "mark": {"type": "text", "fontSize": 13, "baseline": "middle", "align": "center"},
          "encoding": {
            "x": {"field": "bar"},
            "y": {"field": "price"},
            "text": {"field": "label"},
            "color": {"field": "label", "type": "nominal", "legend": null, "scale": {"domain": ["595.74","595.75"], "range": ["#f23645","#2962ff"]}}
          }
        },
        {
          "data": {"values": [{"bar":8.91,"price":630.99,"label":"SELL"},{"bar":28.59,"price":630.99,"label":"BUY"}]},
          "mark": {"type": "text", "fontSize": 11, "baseline": "middle", "align": "center"},
          "encoding": {
            "x": {"field": "bar"},
            "y": {"field": "price"},
            "text": {"field": "label"},
            "color": {"field": "label", "type": "nominal", "legend": null, "scale": {"domain": ["SELL","BUY"], "range": ["#f23645","#2962ff"]}}
          }
        },
        {
          "mark": {"type": "text", "color": "#131722", "fontSize": 11, "baseline": "middle", "align": "center"},
          "encoding": {"x": {"datum": 18.65}, "y": {"datum": 631.82}, "text": {"value": "0.01"}}
        },
        {
          "mark": {"type": "point", "shape": "M-0.8,-0.55H0.8Q1,-0.55 1,-0.35V0.35Q1,0.55 0.8,0.55H-0.8Q-1,0.55 -1,0.35V-0.35Q-1,-0.55 -0.8,-0.55Z", "size": 961, "filled": true, "fill": "#ffffff", "stroke": "#e0e3eb", "strokeWidth": 1, "opacity": 1},
          "encoding": {"x": {"datum": 5.87}, "y": {"datum": 627.79}}
        },
        {
          "mark": {"type": "point", "shape": "M-1,-0.5L0,0.5L1,-0.5", "size": 64, "filled": false, "color": "#131722", "strokeWidth": 1, "opacity": 1},
          "encoding": {"x": {"datum": 4.85}, "y": {"datum": 627.79}}
        },
        {
          "mark": {"type": "text", "color": "#131722", "fontSize": 12, "baseline": "middle", "align": "center"},
          "encoding": {"x": {"datum": 7.29}, "y": {"datum": 627.79}, "text": {"value": "4"}}
        },
        {
          "data": {"values": [{"bar":210.94},{"bar":216.62}]},
          "mark": {"type": "point", "shape": "M-0.75,-1H0.75Q1,-1 1,-0.75V0.75Q1,1 0.75,1H-0.75Q-1,1 -1,0.75V-0.75Q-1,-1 -0.75,-1Z", "size": 552, "filled": true, "fill": "#ffffff", "stroke": "#e9ebf0", "strokeWidth": 1, "opacity": 1},
          "encoding": {"x": {"field": "bar"}, "y": {"datum": 635.73}}
        },
        {
          "mark": {"type": "point", "shape": "M0,-1V1M-0.8,0.2L0,1L0.8,0.2", "size": 100, "filled": false, "color": "#131722", "strokeWidth": 1, "opacity": 1},
          "encoding": {"x": {"datum": 210.94}, "y": {"datum": 635.73}}
        },
        {
          "mark": {"type": "point", "shape": "M-1,-0.3V-0.5Q-1,-0.9 -0.6,-0.9H0.6Q1,-0.9 1,-0.5V-0.3M-1,0.3V0.5Q-1,0.9 -0.6,0.9H0.6Q1,0.9 1,0.5V0.3", "size": 100, "filled": false, "color": "#131722", "strokeWidth": 1.2, "opacity": 1},
          "encoding": {"x": {"datum": 216.62}, "y": {"datum": 635.73}}
        },
        {
          "mark": {"type": "point", "shape": "M-1,-0.5H-0.2V0.5H-0.6V-0.05H-1ZM0.17,-0.25a0.17,0.17 0 1 0 -0.34,0a0.17,0.17 0 1 0 0.34,0ZM0.52,-0.5H1L0.62,0.5H0.1Z", "size": 900, "filled": true, "color": "#ffffff", "stroke": "#ffffff", "strokeWidth": 3, "opacity": 1},
          "encoding": {"x": {"datum": 6.0}, "y": {"datum": 561.5}}
        },
        {
          "mark": {"type": "text", "font": "Inter", "fontWeight": "bold", "fontSize": 20, "baseline": "middle", "align": "left", "color": "#ffffff", "stroke": "#ffffff", "strokeWidth": 3},
          "encoding": {"x": {"datum": 10.8}, "y": {"datum": 561.5}, "text": {"value": "TradingView"}}
        },
        {
          "mark": {"type": "point", "shape": "M-1,-0.5H-0.2V0.5H-0.6V-0.05H-1ZM0.17,-0.25a0.17,0.17 0 1 0 -0.34,0a0.17,0.17 0 1 0 0.34,0ZM0.52,-0.5H1L0.62,0.5H0.1Z", "size": 900, "filled": true, "color": "#000000", "opacity": 1},
          "encoding": {"x": {"datum": 6.0}, "y": {"datum": 561.5}}
        },
        {
          "mark": {"type": "text", "font": "Inter", "fontWeight": "bold", "fontSize": 20, "baseline": "middle", "align": "left", "color": "#000000"},
          "encoding": {"x": {"datum": 10.8}, "y": {"datum": 561.5}, "text": {"value": "TradingView"}}
        }
      ]
    }
  ]
}
